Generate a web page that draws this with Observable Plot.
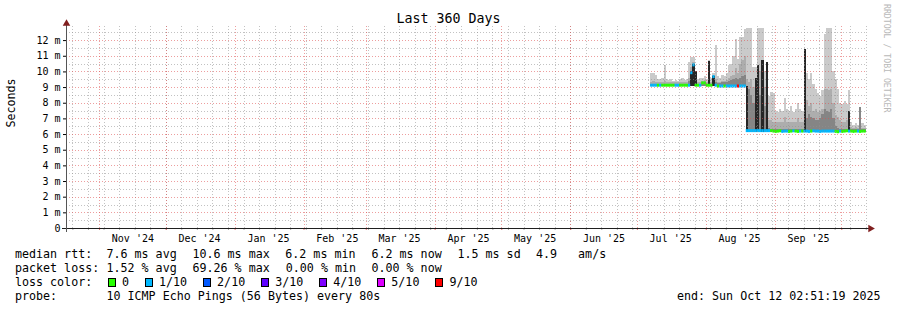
<!DOCTYPE html>
<html><head><meta charset="utf-8">
<script src="https://cdn.jsdelivr.net/npm/d3@7"></script>
<script src="https://cdn.jsdelivr.net/npm/@observablehq/plot@0.6"></script>
<style>
html,body{margin:0;padding:0;background:#fff;}
#wrap{position:relative;width:897px;height:310px;overflow:hidden;background:#fff;font-family:"DejaVu Sans Mono",monospace;color:#000;}
#title{position:absolute;left:0;top:8px;width:897px;text-align:center;font-size:13.3px;line-height:22px;white-space:pre;}
#chart{position:absolute;left:0;top:22px;}
.lg{position:absolute;font-size:11.67px;line-height:14px;white-space:pre;}
.box{position:absolute;box-sizing:border-box;width:8px;height:9px;border:1px solid #000;}
#wm{position:absolute;left:882px;top:4px;writing-mode:vertical-rl;font-size:8.2px;line-height:9px;color:#b8b8b8;white-space:pre;}
</style></head>
<body><div id="wrap"><div id="title">Last 360 Days</div><div id="chart"></div><div id="wm">RRDTOOL / TOBI OETIKER</div></div>
<script>
// ---- data (one value per day, starting 2025-07-07) ----
const firstDay = Date.UTC(2025, 6, 7);
const medMs = [
9.15,9.15,9.15,9.15,9.15,9.15,9.15,9.15,9.15,9.15,
9.15,9.15,9.15,9.15,9.15,9.15,9.15,9.15,9.95,10.45,
9.15,9.15,9.15,9.3,9.3,9.15,9.15,9.15,9.7,9.15,
9.1,9.1,9.1,9.1,9.1,9.1,9.1,9.1,9.1,9.1,
9.1,9.1,9.1,6.25,6.25,6.25,6.25,6.25,6.25,6.25,
6.25,6.25,6.25,6.25,6.25,6.22,6.2,6.22,6.24,6.2,
6.22,6.22,6.2,6.22,6.24,6.22,6.2,6.22,6.22,6.22,
6.22,6.2,6.22,6.24,6.22,6.22,6.2,6.22,6.22,6.22,
6.22,6.22,6.22,6.2,6.18,6.22,6.2,6.22,6.24,6.22,
6.22,6.2,6.22,6.22,6.2,6.22,6.22];
const loMs = medMs.map((m, i) => i < 43 ? 9.05 : 6.12);
const maxMs = [
9.9,9.9,9.8,9.5,9.5,9.6,10.4,9.5,9.45,9.5,
9.4,9.45,9.4,9.5,9.6,9.45,9.5,10.6,10.9,10.9,
9.9,9.5,9.6,9.6,9.7,9.5,10.7,9.6,9.9,11.7,
9.7,9.6,9.8,9.7,9.9,10.4,10.5,11.0,12.1,10.8,
12.2,12.2,12.7,12.8,12.8,12.8,10.3,10.3,12.8,12.8,
12.8,10.0,10.6,8.4,8.7,8.6,7.5,7.4,7.6,7.5,
8.3,7.6,7.5,7.8,7.4,7.6,8.0,7.6,7.5,9.9,
9.9,9.5,9.9,9.2,8.9,8.6,8.4,8.8,12.4,12.8,
12.8,12.8,10.0,9.5,8.9,8.0,7.9,8.1,7.9,8.8,
6.8,6.6,6.7,6.6,6.8,6.7,6.6];
const midMs = [
9.35,9.4,9.3,9.3,9.3,9.35,9.4,9.3,9.3,9.3,
9.3,9.3,9.3,9.3,9.35,9.3,9.3,9.6,10.3,10.6,
9.5,9.3,9.3,9.4,9.45,9.3,9.6,9.3,9.75,9.5,
9.35,9.35,9.4,9.4,9.45,9.6,9.7,9.8,10.2,9.9,
10.5,10.7,11.0,9.5,9.3,9.5,9.0,9.5,10.0,10.0,
10.0,9.0,8.5,6.9,6.9,6.8,6.8,6.8,6.8,6.8,
7.1,6.8,6.8,6.8,6.8,6.8,7.0,6.8,6.8,8.0,
8.2,7.8,8.0,7.5,7.6,7.4,7.5,7.6,8.9,8.9,
8.8,8.9,8.0,7.2,7.1,6.9,6.8,6.8,6.9,6.7,
6.45,6.4,6.45,6.4,6.45,6.4,6.4];
const innerMs = [
9.2,9.2,9.2,9.2,9.2,9.2,9.2,9.2,9.2,9.2,
9.2,9.2,9.2,9.2,9.2,9.2,9.2,9.4,10.0,10.5,
9.3,9.2,9.2,9.35,9.35,9.2,9.3,9.2,9.7,9.3,
9.25,9.25,9.3,9.3,9.3,9.4,9.45,9.5,9.6,9.5,
9.6,9.7,9.8,9.1,8.9,8.5,8.0,8.0,8.5,8.5,
8.3,7.8,7.5,6.4,6.35,6.32,6.32,6.32,6.32,6.32,
6.32,6.32,6.32,6.32,6.32,6.32,6.32,6.32,6.32,7.2,
7.0,7.3,7.1,7.0,6.9,6.9,7.0,7.3,7.6,7.5,
7.4,7.6,7.0,6.5,6.4,6.32,6.32,6.32,6.32,6.32,
6.32,6.32,6.32,6.32,7.7,6.32,6.32];
const coreMs = [
null,null,null,null,null,null,null,null,null,null,
null,null,null,null,null,null,null,null,10.0,10.5,
10.0,null,null,null,null,null,10.65,null,9.7,null,
null,null,null,null,null,null,null,null,null,null,
null,null,null,9.1,null,null,null,9.6,10.4,null,
10.7,null,10.6,null,null,null,null,null,null,null,
null,null,null,null,null,null,null,null,null,11.45,
null,null,null,null,null,null,null,null,null,null,
null,null,null,null,null,null,null,null,null,7.5,
null,null,null,null,null,null,null];
const lossCount = [
1,1,1,0,1,0,0,0,0,0,
0,1,1,0,0,0,0,1,1,1,
0,0,1,0,0,0,0,0,1,1,
0,1,1,0,1,1,1,1,1,9,
1,1,1,1,1,1,1,1,1,1,
1,1,1,1,0,0,0,0,0,1,
1,1,0,0,1,0,0,1,0,1,
1,1,0,1,1,1,1,1,1,1,
1,1,1,0,0,1,0,0,0,1,
0,0,0,1,0,0,0];

const lossCounts = [0, 1, 2, 3, 4, 5, 9];
const lossLabels = ["0", "1/10", "2/10", "3/10", "4/10", "5/10", "9/10"];
const lossColors = ["#26ff00", "#00b8ff", "#0059ff", "#5e00ff", "#7e00ff", "#dd00ff", "#ff0000"];

const yTicks = [0,1,2,3,4,5,6,7,8,9,10,11,12];
const yTickLabels = ["0","1 m","2 m","3 m","4 m","5 m","6 m","7 m","8 m","9 m","10 m","11 m","12 m"];
const yDomain = [0, 12.9];
const monthLabels = ["Nov '24","Dec '24","Jan '25","Feb '25","Mar '25","Apr '25","May '25","Jun '25","Jul '25","Aug '25","Sep '25"];

const rttStats = ["7.6 ms avg", "10.6 ms max", "6.2 ms min", "6.2 ms now", "1.5 ms sd", "4.9   am/s"];
const lossStats = ["1.52 % avg", "69.26 % max", "0.00 % min", "0.00 % now"];
const probeText = "10 ICMP Echo Pings (56 Bytes) every 80s";
const endText = "end: Sun Oct 12 02:51:19 2025";

// ---- build ----
const start = new Date(Date.UTC(2024, 9, 17, 2, 51, 19));
const end = new Date(Date.UTC(2025, 9, 12, 2, 51, 19));
const DAY = 864e5;
function lossColor(k) { let c = lossColors[0]; lossCounts.forEach((n, i) => { if (k >= n) c = lossColors[i]; }); return c; }
const rows = medMs.map((m, i) => ({
  date: new Date(firstDay + i * DAY), next: new Date(firstDay + (i + 1) * DAY),
  med: m, lo: loMs[i], hi: maxMs[i], mid: midMs[i], inner: innerMs[i], core: coreMs[i], loss: lossCount[i]
}));
const months = d3.utcMonth.range(start, end);
const weeks = d3.utcSunday.range(start, end);
const mids = months.map(d => d3.utcDay.offset(d, 15)).filter(d => d < end);
const labelMap = new Map(mids.map((d, i) => [+d, monthLabels[i]]));
const yMajor = yTicks.filter(v => v > 0);
const yMinor = yTicks.map(v => v + 0.5).filter(v => v < yDomain[1]);

const band = {x1: "date", x2: "next", y1: "lo", shapeRendering: "crispEdges"};
const gridMinor = {stroke: "#8f8f8f", strokeOpacity: 0.55, strokeDasharray: "1,2", shapeRendering: "crispEdges"};
const gridMajor = {stroke: "#de4f4f", strokeOpacity: 0.55, strokeDasharray: "1,2", shapeRendering: "crispEdges"};
const chart = Plot.plot({
  width: 897, height: 226,
  marginTop: 4, marginBottom: 20, marginLeft: 66, marginRight: 31,
  style: {background: "transparent", fontFamily: "'DejaVu Sans Mono', monospace", fontSize: "10px", color: "#000", overflow: "visible"},
  x: {type: "utc", domain: [start, end], axis: null},
  y: {domain: yDomain, axis: null},
  color: {type: "identity"},
  marks: [
    Plot.rect(rows, {...band, y2: "hi", fill: "#cacaca"}),
    Plot.rect(rows, {...band, y2: "mid", fill: "#adadad"}),
    Plot.rect(rows, {...band, y2: "inner", fill: "#858585"}),
    Plot.rect(rows, {...band, y2: "core", fill: "#262626", filter: d => d.core != null}),
    Plot.ruleY(rows, {y: "med", x1: "date", x2: "next", stroke: d => lossColor(d.loss), strokeWidth: 3}),
    Plot.ruleY(yMinor, gridMinor),
    Plot.ruleX(weeks, gridMinor),
    Plot.ruleY(yMajor, gridMajor),
    Plot.ruleX(months, gridMajor),
    Plot.axisY({ticks: yTicks, tickFormat: d => yTickLabels[yTicks.indexOf(d)], tickSize: 3, tickPadding: 3, label: null, fontSize: 10}),
    Plot.axisX({ticks: weeks, tickSize: 2, tickFormat: () => "", label: null, stroke: "#aaa"}),
    Plot.axisX({ticks: months, tickSize: 2, tickFormat: () => "", label: null, stroke: "#e07070"}),
    Plot.axisX({ticks: mids, tickFormat: d => labelMap.get(+d), tickSize: 0, tickPadding: 6, label: null, fontSize: 10}),
    Plot.ruleY([0], {stroke: "#1f1f1f", insetLeft: -4, insetRight: -4, shapeRendering: "crispEdges"}),
    Plot.ruleX([start], {stroke: "#555", insetTop: -4, insetBottom: -4, shapeRendering: "crispEdges"}),
    Plot.dot([start], {x: d => d, y: () => yDomain[1], symbol: "triangle", r: 2.8, fill: "#801f1f", dy: -3}),
    Plot.dot([end], {x: d => d, y: () => yDomain[0], symbol: "triangle", r: 2.8, fill: "#801f1f", rotate: 90, dx: 4}),
    Plot.text(["Seconds"], {frameAnchor: "left", dx: -55, rotate: -90, fontSize: 11.67, fill: "#000"})
  ]
});
document.getElementById("chart").appendChild(chart);

// ---- legend ----
const wrap = document.getElementById("wrap");
function addText(t, left, topPx) {
  const s = document.createElement("div"); s.className = "lg"; s.textContent = t;
  s.style.left = left + "px"; s.style.top = topPx + "px"; wrap.appendChild(s); return s;
}
const statX1 = [106.5, 192.5, 285.3, 371.5, 457.5, 536];
addText("median rtt:", 15, 247);
rttStats.forEach((t, i) => addText(t, statX1[i], 247));
addText("packet loss:", 15, 261);
lossStats.forEach((t, i) => addText(t, statX1[i] + (i === 2 ? 0.5 : 0), 261));
addText("loss color:", 15, 275);
let bx = 108;
lossLabels.forEach((lab, i) => {
  const b = document.createElement("div"); b.className = "box";
  b.style.left = bx + "px"; b.style.top = "278px"; b.style.background = lossColors[i];
  wrap.appendChild(b);
  addText(lab, bx + 14, 275);
  bx += 14 + lab.length * 7.02 + 16;
});
addText("probe:", 15, 289);
addText(probeText, 106.5, 289);
addText(endText, 677, 289);
</script>
</body></html>
